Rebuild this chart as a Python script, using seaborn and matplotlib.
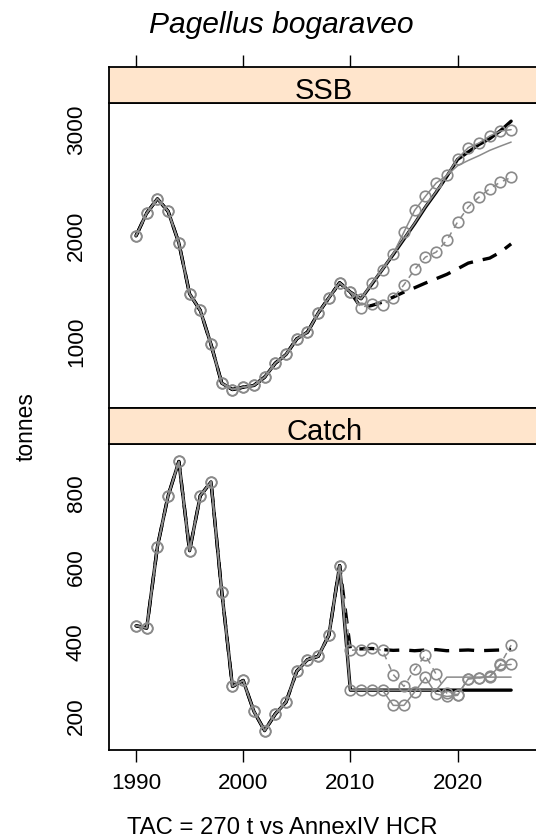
import matplotlib
matplotlib.use("Agg")
import matplotlib.pyplot as plt
import seaborn as sns
import numpy as np
import pandas as pd

# ---------------- data ----------------
ssb_hist_years = list(range(1990, 2011))
ssb_hist = [2000, 2215, 2350, 2231, 1933, 1455, 1298, 978, 614, 554, 576,
            592, 670, 802, 884, 1031, 1094, 1273, 1418, 1559, 1471]
ssb_proj_years = list(range(2011, 2026))
ssb_tac = [1408, 1545, 1685, 1825, 1970, 2115, 2270, 2410, 2560, 2720,
           2790, 2860, 2915, 2990, 3080]
ssb_hcr = [1324, 1345, 1377, 1424, 1471, 1512, 1556, 1597, 1638, 1690,
           1744, 1769, 1791, 1847, 1925]
ssb_grey_line = [1408, 1550, 1690, 1830, 1975, 2120, 2275, 2415, 2570, 2660,
                 2710, 2755, 2805, 2845, 2883]
ssb_grey_circ = [1408, 1556, 1682, 1832, 2036, 2240, 2372, 2497, 2570, 2727,
                 2831, 2874, 2940, 2987, 3000]
ssb_grey_circ_dash = [1324, 1362, 1352, 1414, 1540, 1684, 1800, 1847, 1958,
                      2130, 2271, 2365, 2444, 2507, 2550]

catch_hist_years = list(range(1990, 2010))
catch_hist = [443, 437, 656, 793, 885, 645, 793, 830, 535, 280, 296, 213,
              161, 206, 238, 321, 352, 361, 418, 605]
catch_proj_years = list(range(2010, 2026))
catch_tac = [270, 270, 270, 270, 270, 270, 270, 270, 270, 270, 270, 270,
             270, 270, 270, 270]
catch_hcr = [380, 381, 382, 379, 377, 378, 376, 378, 379, 376, 377, 378,
             376, 377, 378, 379]
catch_grey_line = [270, 270, 270, 270, 270, 270, 270, 270, 270, 305, 305,
                   305, 305, 305, 305, 305]
catch_grey_circ = [270, 270, 270, 270, 229, 229, 265, 304, 260, 253, 256,
                   301, 303, 307, 337, 339]
catch_grey_circ_dash = [377, 379, 382, 377, 312, 280, 326, 364, 313, 262,
                        258, 300, 303, 306, 340, 391]

x_ticks = [1990, 2000, 2010, 2020]
ssb_ticks = [1000, 2000, 3000]
catch_ticks = [200, 400, 600, 800]
panel_names = ["SSB", "Catch"]
title = "Pagellus bogaraveo"
xlab = "TAC = 270 t vs AnnexIV HCR"
ylab = "tonnes"

# ---------------- style ----------------
sns.set_style("white")
plt.rcParams["font.family"] = ["Liberation Sans", "DejaVu Sans"]
plt.rcParams["text.color"] = "black"
plt.rcParams["axes.labelcolor"] = "black"
plt.rcParams["xtick.color"] = "black"
plt.rcParams["ytick.color"] = "black"
plt.rcParams["xtick.labelcolor"] = "black"
plt.rcParams["ytick.labelcolor"] = "black"

W, H = 536, 839
fig = plt.figure(figsize=(W / 100, H / 100), dpi=100)


def fx(px):
    return px / W


def fy(py):
    return 1 - py / H


LEFT, RIGHT = 109.4, 539
XLIM = (1987.52, 2027.6)
STRIP_COL = "#ffe5cc"
GREY = "#8a8a8a"

ax_ssb = fig.add_axes([fx(LEFT), fy(408), fx(RIGHT) - fx(LEFT), (408 - 103) / H])
ax_ssb_strip = fig.add_axes([fx(LEFT), fy(103), fx(RIGHT) - fx(LEFT), (103 - 67) / H])
ax_c = fig.add_axes([fx(LEFT), fy(750), fx(RIGHT) - fx(LEFT), (750 - 444) / H])
ax_c_strip = fig.add_axes([fx(LEFT), fy(444), fx(RIGHT) - fx(LEFT), (444 - 408) / H])


def draw(ax, xs, ys, color, lw, dashes=None, marker=False, z=2):
    sns.lineplot(x=xs, y=ys, ax=ax, color=color, lw=lw, sort=False,
                 errorbar=None, legend=False, zorder=z)
    line = ax.lines[-1]
    if dashes is not None:
        line.set_dashes(dashes)
    if marker:
        line.set_marker("o")
        line.set_markersize(7.6)
        line.set_markerfacecolor("none")
        line.set_markeredgecolor(color)
        line.set_markeredgewidth(1.2)
    return line


def panel(ax, hx, hy, px, series, ylim, yticks):
    full_x = hx + px
    # black series first, grey on top
    draw(ax, full_x, hy + series[0], "black", 2.4, z=2)
    draw(ax, full_x, hy + series[1], "black", 2.4, dashes=(4.5, 3), z=2)
    draw(ax, full_x, hy + series[2], GREY, 1.1, z=3)
    draw(ax, full_x, hy + series[3], GREY, 1.1, marker=True, z=3)
    draw(ax, full_x, hy + series[4], GREY, 1.1, dashes=(4, 3.5), marker=True, z=3)
    ax.set_xlim(*XLIM)
    ax.set_ylim(*ylim)
    ax.set_yticks(yticks)
    ax.set_xticks(x_ticks)
    ax.set_xlabel("")
    ax.set_ylabel("")
    for s in ax.spines.values():
        s.set_color("black")
        s.set_linewidth(1.3)
    ax.tick_params(axis="both", direction="out", length=8.8, width=1.0,
                   labelsize=16.2, color="black", labelcolor="black", pad=7)
    ax.tick_params(axis="y", labelrotation=90, pad=7.5)
    for lab in ax.get_yticklabels():
        lab.set_va("center")


panel(ax_ssb, ssb_hist_years, ssb_hist, ssb_proj_years,
      [ssb_tac, ssb_hcr, ssb_grey_line, ssb_grey_circ, ssb_grey_circ_dash],
      (380, 3251), ssb_ticks)
ax_ssb.tick_params(axis="x", bottom=False, labelbottom=False)

panel(ax_c, catch_hist_years, catch_hist, catch_proj_years,
      [catch_tac, catch_hcr, catch_grey_line, catch_grey_circ, catch_grey_circ_dash],
      (109, 932), catch_ticks)
ax_c.tick_params(axis="x", bottom=True, labelbottom=True, pad=8)

for sax, name in [(ax_ssb_strip, panel_names[0]), (ax_c_strip, panel_names[1])]:
    sax.set_facecolor(STRIP_COL)
    sax.set_xlim(*XLIM)
    sax.set_ylim(0, 1)
    sax.set_yticks([])
    for s in sax.spines.values():
        s.set_color("black")
        s.set_linewidth(1.3)
    sax.text(0.5, 0.12, name, ha="center", va="baseline", color="black",
             fontsize=21, transform=sax.transAxes)

ax_ssb_strip.set_xticks(x_ticks)
ax_ssb_strip.tick_params(axis="x", top=True, bottom=False, labeltop=False,
                         labelbottom=False, direction="out", length=8.8,
                         width=1.0, color="black")
ax_c_strip.set_xticks([])

fig.text(fx(281), fy(33.3), title, ha="center", va="baseline",
         fontsize=21.6, style="italic", color="black")
fig.text(fx(282), fy(834), xlab, ha="center", va="baseline", fontsize=17.2,
         color="black")
fig.text(fx(26), fy(427), ylab, ha="center", va="center", rotation=90,
         fontsize=16.4, color="black")

fig.savefig("out.png", dpi=100)
